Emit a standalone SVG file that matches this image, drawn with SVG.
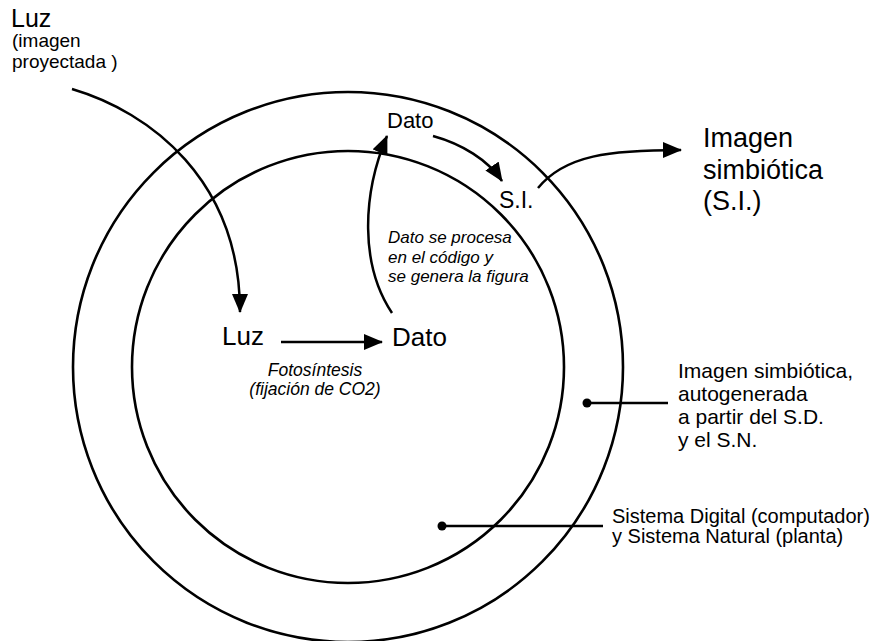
<svg xmlns="http://www.w3.org/2000/svg" width="889" height="641" viewBox="0 0 889 641">
<style>
.t{font-family:"Liberation Sans",Arial,sans-serif;fill:#000}
.i{font-style:italic}
.ln{fill:none;stroke:#000;stroke-width:2.5}
.c{fill:none;stroke:#000;stroke-width:2.6}
</style>
<defs>
<marker id="ah" markerUnits="userSpaceOnUse" markerWidth="20" markerHeight="18" refX="18" refY="8" orient="auto">
<path d="M0,0 L19,8 L0,16 z" fill="#000"/>
</marker>
</defs>
<rect width="889" height="641" fill="#fff"/>
<g id="outer-circle"><circle class="c" cx="348" cy="367" r="275"/></g>
<g id="inner-circle"><circle class="c" cx="348" cy="367" r="216"/></g>
<g id="connectors">
<path class="ln" d="M72 89 C150 112 240 180 240 312" marker-end="url(#ah)"/>
<path class="ln" d="M281 342 L382 342" marker-end="url(#ah)"/>
<path class="ln" d="M392 313 C360 265 362 195 387 136" marker-end="url(#ah)"/>
<path class="ln" d="M433 136 C462 144 488 160 502 181" marker-end="url(#ah)"/>
<path class="ln" d="M538 188 C565 155 610 150 681 150" marker-end="url(#ah)"/>
<path class="ln" d="M587 403 L668 403"/>
<circle cx="587" cy="403" r="4.5" fill="#000"/>
<path class="ln" d="M442 526 L603 526"/>
<circle cx="442" cy="526" r="4.5" fill="#000"/>
</g>
<g id="luz-source">
<text class="t" x="11" y="27" font-size="25">Luz</text>
<text class="t" x="12" y="47" font-size="19">(imagen</text>
<text class="t" x="12" y="68" font-size="19">proyectada )</text>
</g>
<g id="luz"><text class="t" x="222" y="345" font-size="26">Luz</text></g>
<g id="dato"><text class="t" x="392" y="346" font-size="26">Dato</text></g>
<g id="fotosintesis">
<text class="t i" x="315" y="376" font-size="17.5" text-anchor="middle">Fotosíntesis</text>
<text class="t i" x="315" y="395" font-size="17.5" text-anchor="middle">(fijación de CO2)</text>
</g>
<g id="dato-top"><text class="t" x="387" y="128" font-size="22">Dato</text></g>
<g id="si"><text class="t" x="499" y="208" font-size="23">S.I.</text></g>
<g id="proceso">
<text class="t i" x="388" y="243" font-size="17">Dato se procesa</text>
<text class="t i" x="388" y="263" font-size="17">en el código y</text>
<text class="t i" x="388" y="282" font-size="17">se genera la figura</text>
</g>
<g id="imagen-simbiotica">
<text class="t" x="703" y="147" font-size="27">Imagen</text>
<text class="t" x="703" y="179" font-size="27">simbiótica</text>
<text class="t" x="703" y="210" font-size="27">(S.I.)</text>
</g>
<g id="label-outer">
<text class="t" x="678" y="378" font-size="21">Imagen simbiótica,</text>
<text class="t" x="678" y="401" font-size="21">autogenerada</text>
<text class="t" x="678" y="424" font-size="21">a partir del S.D.</text>
<text class="t" x="678" y="447" font-size="21">y el S.N.</text>
</g>
<g id="label-inner">
<text class="t" x="612" y="523" font-size="20">Sistema Digital (computador)</text>
<text class="t" x="612" y="543" font-size="20">y Sistema Natural (planta)</text>
</g>
</svg>
